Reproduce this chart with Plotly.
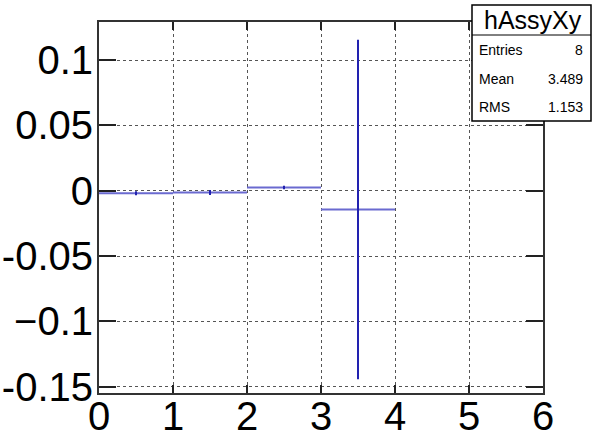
import plotly.graph_objects as go

# Histogram hAssyXy: bin centers, contents, errors
bin_centers = [0.5, 1.5, 2.5, 3.5]
bin_halfwidths = [0.5, 0.5, 0.5, 0.5]
bin_values = [-0.0020, -0.0013, 0.0025, -0.0143]
bin_errors = [0.0015, 0.0019, 0.0014, 0.1300]

x_ticks = [0, 1, 2, 3, 4, 5, 6]
y_ticks = [0.1, 0.05, 0, -0.05, -0.1, -0.15]
y_ticktext = ["0.1", "0.05", "0", "-0.05", "\u22120.1", "-0.15"]

stats_title = "hAssyXy"
stats_labels = ["Entries", "Mean", "RMS"]
stats_values = ["8", "3.489", "1.153"]

FONT = "Liberation Sans, Arial, Helvetica, sans-serif"

W, H = 593, 444
L, R, T, B = 99, 543, 22, 393  # plot area in pixels

fig = go.Figure()
# horizontal bin-width bars (lighter, antialiased look)
fig.add_trace(go.Scatter(
    x=bin_centers, y=bin_values, mode="markers",
    marker=dict(size=0.1, color="rgba(0,0,0,0)"),
    error_x=dict(type="data", array=bin_halfwidths, width=0, thickness=2, color="#6a6ad0"),
    showlegend=False, hoverinfo="skip"))
# vertical error bars
fig.add_trace(go.Scatter(
    x=bin_centers, y=bin_values, mode="markers",
    marker=dict(size=0.1, color="rgba(0,0,0,0)"),
    error_y=dict(type="data", array=bin_errors, width=0, thickness=2, color="#2222b0"),
    showlegend=False, hoverinfo="skip"))

axis_common = dict(
    showline=True, linecolor="#333333", linewidth=2, mirror="ticks",
    ticks="inside", tickcolor="#222222", tickwidth=2,
    showgrid=True, gridcolor="#555555", griddash="dot", gridwidth=1,
    zeroline=False, automargin=False,
    tickfont=dict(family=FONT, size=40, color="black"),
)

fig.update_xaxes(range=[0, 6], tickvals=x_ticks, ticktext=[str(v) for v in x_ticks],
                 ticklen=8, ticklabelstandoff=-13, **axis_common)
fig.update_yaxes(range=[-0.1549, 0.1292], tickvals=y_ticks, ticktext=y_ticktext,
                 ticklen=17, ticklabelstandoff=-4, **axis_common)

# stats box (pixel -> paper coordinates relative to plot area)
def px(x): return (x - L) / (R - L)
def py(y): return (B - y) / (B - T)

bx0, bx1 = 472, 591
by0, by1 = 5, 121

shapes = [
    dict(type="rect", xref="paper", yref="paper", x0=px(bx0), x1=px(bx1), y0=py(by1), y1=py(by0),
         line=dict(color="black", width=1.5), fillcolor="white", layer="above"),
    dict(type="line", xref="paper", yref="paper", x0=px(bx0), x1=px(bx1), y0=py(35), y1=py(35),
         line=dict(color="black", width=1), layer="above"),
]
annotations = [
    dict(text=stats_title, xref="paper", yref="paper", x=px((bx0 + bx1) / 2 + 1), y=py(20),
         xanchor="center", yanchor="middle", showarrow=False,
         font=dict(family=FONT, size=25, color="black")),
]
row_y = [50, 79, 107]
for lab, val, yy in zip(stats_labels, stats_values, row_y):
    annotations.append(dict(text=lab, xref="paper", yref="paper", x=px(bx0 + 5), y=py(yy),
                            xanchor="left", yanchor="middle", showarrow=False,
                            font=dict(family=FONT, size=14, color="black")))
    annotations.append(dict(text=val, xref="paper", yref="paper", x=px(585), y=py(yy),
                            xanchor="right", yanchor="middle", showarrow=False,
                            font=dict(family=FONT, size=14, color="black")))

fig.update_layout(
    width=W, height=H,
    margin=dict(l=L, r=W - R, t=T, b=H - B, pad=0),
    paper_bgcolor="white", plot_bgcolor="white",
    shapes=shapes, annotations=annotations,
    showlegend=False,
)

fig.write_html("out.html")
